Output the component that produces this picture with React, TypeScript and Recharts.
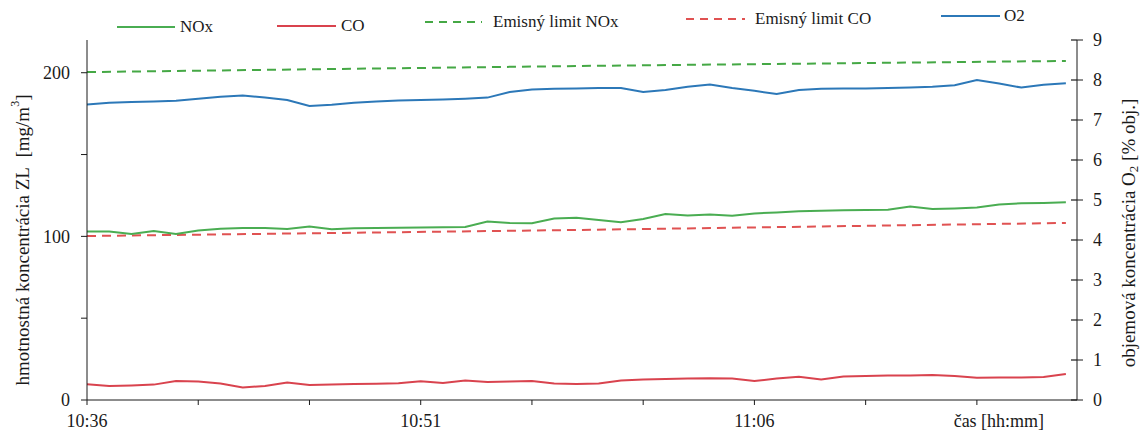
import React from 'react';
import { LineChart, Line, XAxis, YAxis, Label } from 'recharts';

// time in minutes after 10:36
const minutes = [0,1,2,3,4,5,6,7,8,9,10,11,12,13,14,15,16,17,18,19,20,21,22,23,24,25,26,27,28,29,30,31,32,33,34,35,36,37,38,39,40,41,42,43,44];
const noxValues = [102.9,102.9,101.4,103.3,101.4,103.6,104.7,105.1,105.1,104.5,106.0,104.3,104.9,105.1,105.3,105.4,105.5,105.7,109.1,108.2,108.0,110.9,111.4,110.0,108.6,110.6,113.7,112.7,113.4,112.6,114.0,114.6,115.4,115.7,115.9,116.1,116.2,118.2,116.7,117.1,117.6,119.5,120.2,120.4,120.9];
const coValues = [9.6,8.6,8.9,9.4,11.6,11.3,10.1,7.6,8.6,10.7,9.2,9.5,9.8,9.9,10.2,11.4,10.4,11.9,11.0,11.3,11.6,10.1,9.8,10.1,11.9,12.5,12.8,13.1,13.3,13.1,11.6,13.1,14.2,12.5,14.4,14.7,14.9,15.0,15.3,14.7,13.6,13.7,13.8,14.1,15.9];
const o2Values = [7.39,7.43,7.45,7.46,7.48,7.53,7.58,7.61,7.56,7.50,7.35,7.38,7.43,7.46,7.49,7.50,7.51,7.53,7.56,7.70,7.76,7.78,7.79,7.80,7.80,7.70,7.75,7.83,7.89,7.80,7.73,7.65,7.75,7.78,7.79,7.79,7.80,7.81,7.83,7.87,8.00,7.91,7.81,7.88,7.92];

const limitMinutes = [0, 22, 44];
const noxLimitValues = [200.4, 204.1, 207.2];
const coLimitValues = [100.2, 103.9, 108.2];

const xTicks = [0, 5, 10, 15, 20, 25, 30, 35, 40];
const xTickLabels: Record<number, string> = { 0: '10:36', 15: '10:51', 30: '11:06', 40: 'čas [hh:mm]' };
const leftTicks = [0, 50, 100, 150, 200];
const leftTickLabels: Record<number, string> = { 0: '0', 100: '100', 200: '200' };
const rightTicks = [0, 1, 2, 3, 4, 5, 6, 7, 8, 9];

const legendItems = [
  { name: 'NOx', color: '#4aad52', dashed: false, lineX: 117, lineW: 58, textX: 180, y: 27 },
  { name: 'CO', color: '#d9434e', dashed: false, lineX: 277, lineW: 59, textX: 341, y: 26 },
  { name: 'Emisný limit NOx', color: '#45a845', dashed: true, lineX: 425, lineW: 57, textX: 493, y: 22 },
  { name: 'Emisný limit CO', color: '#e05252', dashed: true, lineX: 686, lineW: 59, textX: 755, y: 19 },
  { name: 'O2', color: '#2c78b8', dashed: false, lineX: 941, lineW: 59, textX: 1004, y: 16 },
];

const mainData = minutes.map((t, i) => ({ t, nox: noxValues[i], co: coValues[i], o2: o2Values[i] }));
const noxLimitData = limitMinutes.map((t, i) => ({ t, v: noxLimitValues[i] }));
const coLimitData = limitMinutes.map((t, i) => ({ t, v: coLimitValues[i] }));

const FONT = "'Liberation Serif', 'Times New Roman', serif";
const INK = '#1a1a1a';

const XTick = (props: any) => {
  const { x, y, payload } = props;
  const label = xTickLabels[payload.value] ?? '';
  const dx = payload.value === 40 ? 22 : 0;
  return (
    <text x={x + dx} y={y} dy="0.8em" textAnchor="middle" fontFamily={FONT} fontSize={18} fill={INK}>
      {label}
    </text>
  );
};

const LeftTick = (props: any) => {
  const { x, y, payload } = props;
  const label = leftTickLabels[payload.value] ?? '';
  return (
    <text x={x} y={y} dy="0.35em" textAnchor="end" fontFamily={FONT} fontSize={18} fill={INK}>
      {label}
    </text>
  );
};

const RightTick = (props: any) => {
  const { x, y, payload } = props;
  return (
    <g>
      <line x1={x - 22} x2={x - 16} y1={y} y2={y} stroke={INK} strokeWidth={1.2} />
      <text x={x} y={y} dy="0.35em" textAnchor="start" fontFamily={FONT} fontSize={18} fill={INK}>
        {payload.value}
      </text>
    </g>
  );
};

const LeftTitle = () => (
  <text
    x={22}
    y={240}
    transform="rotate(-90, 22, 240)"
    textAnchor="middle"
    dominantBaseline="central"
    fontFamily={FONT}
    fontSize={19}
    fill={INK}
  >
    hmotnostná koncentrácia ZL{'\u00a0\u00a0'}[mg/m<tspan dy={-7} fontSize={12}>3</tspan><tspan dy={7}>]</tspan>
  </text>
);

const RightTitle = () => (
  <text
    x={1128}
    y={233}
    transform="rotate(-90, 1128, 233)"
    textAnchor="middle"
    dominantBaseline="central"
    fontFamily={FONT}
    fontSize={19}
    fill={INK}
  >
    objemová koncentrácia O<tspan dy={5} fontSize={13}>2</tspan><tspan dy={-5}> [% obj.]</tspan>
  </text>
);

export default function App() {
  return (
    <div style={{ position: 'absolute', left: 0, top: 0, width: 1142, height: 436, background: '#fff' }}>
      <LineChart width={1142} height={436} margin={{ top: 40, right: 0, bottom: 0, left: 0 }}>
        <XAxis
          dataKey="t"
          type="number"
          domain={[0, 44.5]}
          ticks={xTicks}
          tick={<XTick />}
          tickSize={5}
          tickMargin={8}
          height={36}
          stroke={INK}
          allowDataOverflow
        />
        <YAxis
          yAxisId="left"
          orientation="left"
          type="number"
          domain={[0, 220]}
          ticks={leftTicks}
          tick={<LeftTick />}
          tickSize={6}
          tickMargin={11}
          width={87}
          stroke={INK}
        >
          <Label content={<LeftTitle />} />
        </YAxis>
        <YAxis
          yAxisId="right"
          orientation="right"
          type="number"
          domain={[0, 9]}
          ticks={rightTicks}
          tick={<RightTick />}
          tickSize={6}
          tickMargin={10}
          width={65}
          stroke={INK}
        >
          <Label content={<RightTitle />} />
        </YAxis>
        <Line yAxisId="left" data={noxLimitData} dataKey="v" type="linear" stroke="#45a845" strokeWidth={2} strokeDasharray="9 6" dot={false} isAnimationActive={false} />
        <Line yAxisId="left" data={coLimitData} dataKey="v" type="linear" stroke="#e05252" strokeWidth={2} strokeDasharray="9 6" dot={false} isAnimationActive={false} />
        <Line yAxisId="left" data={mainData} dataKey="nox" type="linear" stroke="#4aad52" strokeWidth={2} dot={false} isAnimationActive={false} />
        <Line yAxisId="left" data={mainData} dataKey="co" type="linear" stroke="#d9434e" strokeWidth={2} dot={false} isAnimationActive={false} />
        <Line yAxisId="right" data={mainData} dataKey="o2" type="linear" stroke="#2c78b8" strokeWidth={2} dot={false} isAnimationActive={false} />
      </LineChart>
      {legendItems.map((it) => (
        <div key={it.name}>
          <svg
            style={{ position: 'absolute', left: it.lineX, top: it.y - 3 }}
            width={it.lineW}
            height={6}
          >
            <line x1={0} x2={it.lineW} y1={3} y2={3} stroke={it.color} strokeWidth={2} strokeDasharray={it.dashed ? '8 6' : undefined} />
          </svg>
          <div
            style={{
              position: 'absolute',
              left: it.textX,
              top: it.y - 11,
              height: 22,
              lineHeight: '22px',
              fontFamily: FONT,
              fontSize: 17,
              color: INK,
              whiteSpace: 'nowrap',
            }}
          >
            {it.name}
          </div>
        </div>
      ))}
    </div>
  );
}
